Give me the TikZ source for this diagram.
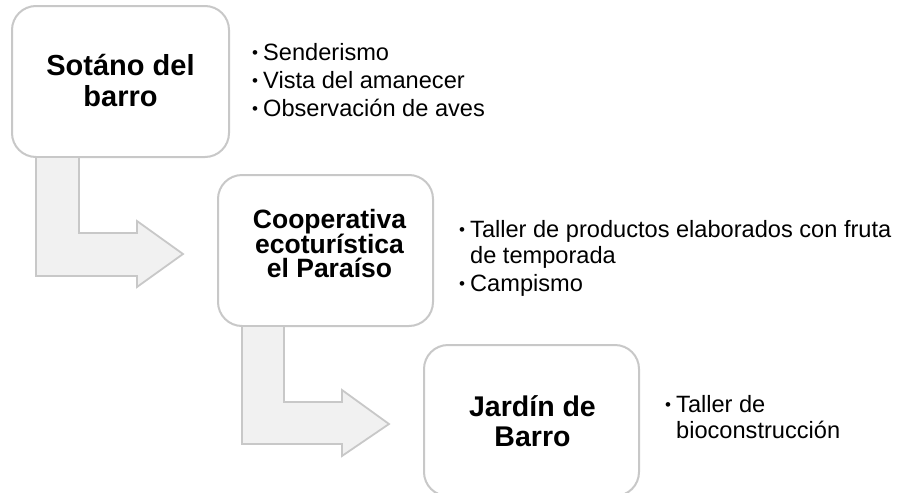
\documentclass[tikz,border=0pt]{standalone}
\usepackage{fontspec}
\setmainfont{Liberation Sans}
\definecolor{boxline}{RGB}{200,200,200}
\definecolor{arrowfill}{RGB}{241,241,241}
\newcommand{\itm}[1]{\makebox[11pt][l]{\raisebox{1.5pt}{\fontsize{17}{17}\selectfont •}}#1}

\begin{document}
\begin{tikzpicture}[x=1pt,y=-1pt,
  box/.style={draw=boxline,line width=2pt,fill=white,rounded corners=24pt,
    minimum width=215pt,minimum height=151pt,inner sep=0pt},
  title/.style={align=center,inner sep=0pt},
  bentarrow/.style={draw=boxline,line width=1.8pt,fill=arrowfill},
  items/.style={anchor=base west,align=left,inner sep=0pt,
    font=\fontsize{23.6}{26}\selectfont}]
\useasboundingbox (0,0) rectangle (906,493);
% boxes
\node[box,minimum width=217pt] (b1) at (120.5,81.5) {};
\node[box] (b2) at (325.5,250.5) {};
\node[box] (b3) at (531.5,420.5) {};
% bent arrows
\draw[bentarrow] ([xshift=68pt]b1.south west) -- ++(0,75) -- ++(58,0) -- ++(0,-12)
  -- ++(46,33) -- ++(-46,33) -- ++(0,-11) -- ++(-101,0) -- ++(0,-118);
\draw[bentarrow] ([xshift=67pt]b2.south west) -- ++(0,75) -- ++(58,0) -- ++(0,-12)
  -- ++(47,34) -- ++(-47,32) -- ++(0,-12) -- ++(-100,0) -- ++(0,-117);
% titles
\node[title,font=\bfseries\fontsize{29}{31}\selectfont] (t1) at ([yshift=1pt]b1.center) {Sotáno del\\barro};
\node[title,font=\bfseries\fontsize{26.5}{24}\selectfont] (t2) at ([xshift=4pt,yshift=7pt]b2.center) {Cooperativa\\ecoturística\\el Paraíso};
\node[title,font=\bfseries\fontsize{28.5}{30}\selectfont] (t3) at ([xshift=1pt,yshift=-1pt]b3.center) {Jardín de\\Barro};
% activities
\node[items] (l1) at (252,116) {\itm{Senderismo}\\[2pt]\itm{Vista del amanecer}\\[2pt]\itm{Observación de aves}};
\node[items] (l2) at (459,291) {\itm{Taller de productos elaborados con fruta}\\\hspace*{11pt}de temporada\\[2pt]\itm{Campismo}};
\node[items] (l3) at (665,438) {\itm{Taller de}\\\hspace*{11pt}bioconstrucción};
\end{tikzpicture}
\end{document}
